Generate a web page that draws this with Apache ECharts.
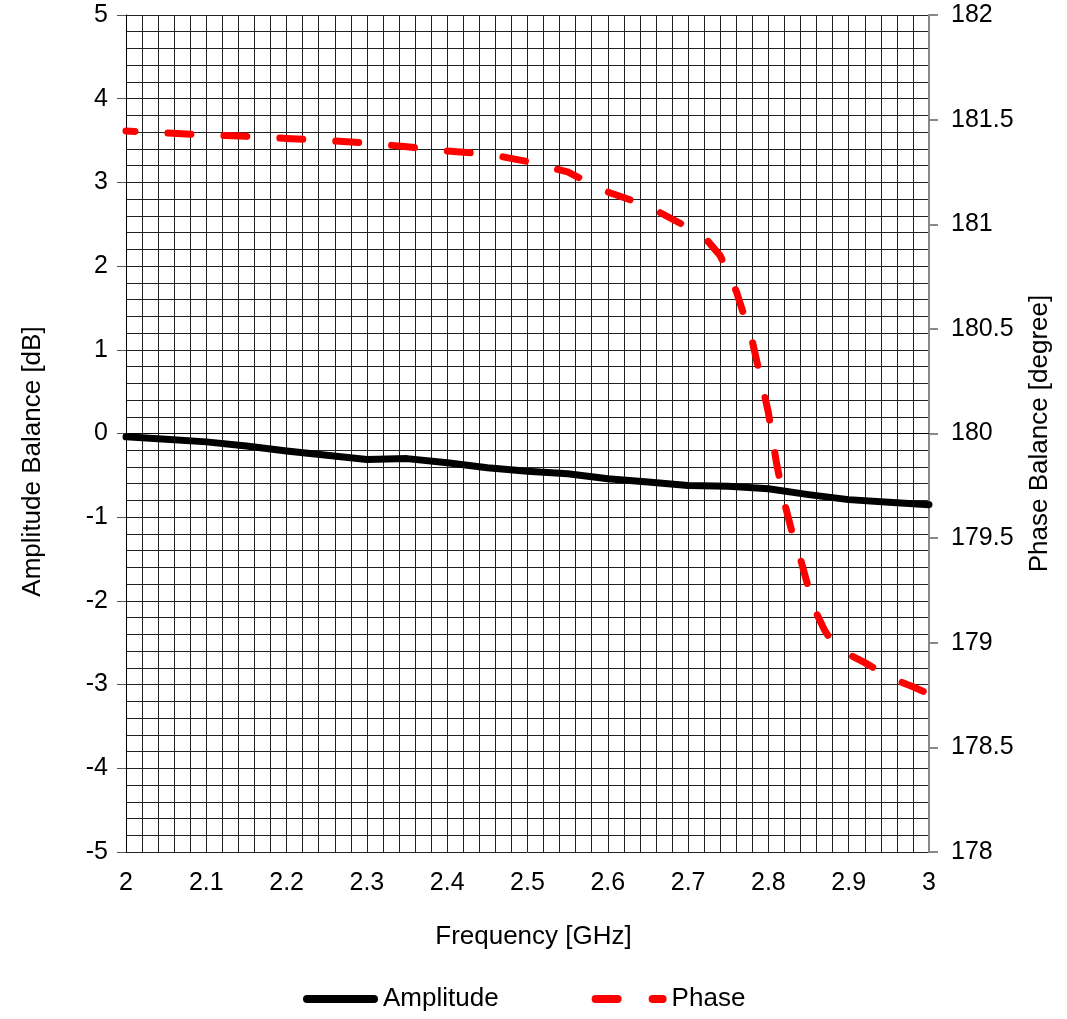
<!DOCTYPE html>
<html>
<head>
<meta charset="utf-8">
<script src="https://cdn.jsdelivr.net/npm/echarts@6/dist/echarts.min.js"></script>
<style>html,body{margin:0;padding:0;background:#fff}#c{width:1067px;height:1019px}</style>
</head>
<body>
<div id="c"></div>
<script>
const ampFreq = [2.00,2.05,2.10,2.15,2.20,2.25,2.30,2.35,2.40,2.45,2.50,2.55,2.60,2.65,2.70,2.75,2.80,2.85,2.90,2.95,3.00];
const ampValues = [-0.04,-0.07,-0.10,-0.15,-0.21,-0.26,-0.31,-0.30,-0.35,-0.41,-0.45,-0.48,-0.54,-0.58,-0.62,-0.63,-0.66,-0.73,-0.79,-0.82,-0.85];
const phaseFreq = [2.00,2.05,2.10,2.15,2.20,2.25,2.30,2.35,2.40,2.45,2.50,2.55,2.60,2.65,2.68,2.70,2.72,2.74,2.76,2.78,2.80,2.81,2.82,2.83,2.84,2.85,2.86,2.87,2.88,2.90,2.92,2.94,2.96,2.98,3.00];
const phaseValues = [181.446,181.436,181.427,181.42,181.41,181.40,181.388,181.37,181.35,181.336,181.30,181.25,181.154,181.087,181.025,180.985,180.94,180.85,180.68,180.44,180.10,179.86,179.67,179.52,179.40,179.26,179.14,179.06,179.00,178.945,178.905,178.86,178.82,178.79,178.755];
const seriesNames = ['Amplitude','Phase'];

const font = 'Liberation Sans, Arial, Helvetica, sans-serif';
const chart = echarts.init(document.getElementById('c'));
chart.setOption({
  animation: false,
  backgroundColor: '#fff',
  textStyle: {fontFamily: font},
  grid: {left: 126, right: 138, top: 15, bottom: 167, containLabel: false},
  legend: {
    bottom: 2, left: 298, itemGap: 93, itemWidth: 75, itemHeight: 8,
    textStyle: {fontSize: 26, color: '#000', fontFamily: font},
    data: [
      {name: seriesNames[0], icon: 'path://M4,0 H71 A4,4 0 0 1 71,8 H4 A4,4 0 0 1 4,0 Z'},
      {name: seriesNames[1], icon: 'path://M4,0 H26 A4,4 0 0 1 26,8 H4 A4,4 0 0 1 4,0 Z M61,0 H71 A4,4 0 0 1 71,8 H61 A4,4 0 0 1 61,0 Z'}
    ]
  },
  xAxis: {
    type: 'value', min: 2, max: 3, interval: 0.1,
    name: 'Frequency [GHz]', nameLocation: 'middle', nameGap: 72,
    nameTextStyle: {fontSize: 26, color: '#000', fontFamily: font, padding: [0, 0, 0, 12]},
    axisLine: {lineStyle: {color: '#000', width: 1}},
    axisTick: {show: false},
    axisLabel: {fontSize: 25, color: '#000', margin: 19, fontFamily: font,
      formatter: v => (Math.round(v*10)/10).toString()},
    splitLine: {show: true, lineStyle: {color: '#222', width: 1}},
    minorTick: {show: false, splitNumber: 5},
    minorSplitLine: {show: true, lineStyle: {color: '#222', width: 1}}
  },
  yAxis: [{
    type: 'value', min: -5, max: 5, interval: 1, position: 'left',
    name: 'Amplitude Balance [dB]', nameLocation: 'middle', nameGap: 80, nameRotate: 90,
    nameTextStyle: {fontSize: 26, color: '#000', fontFamily: font, padding: [0, 56, 0, 0]},
    axisLine: {show: true, lineStyle: {color: '#000', width: 1}},
    axisTick: {show: true, inside: false, length: 9, lineStyle: {color: '#555'}},
    axisLabel: {fontSize: 25, color: '#000', margin: 18, fontFamily: font},
    splitLine: {show: true, lineStyle: {color: '#222', width: 1}},
    minorTick: {show: false, splitNumber: 5},
    minorSplitLine: {show: true, lineStyle: {color: '#222', width: 1}}
  }, {
    type: 'value', min: 178, max: 182, interval: 0.5, position: 'right',
    name: 'Phase Balance [degree]', nameLocation: 'middle', nameGap: 98, nameRotate: 90,
    nameTextStyle: {fontSize: 26, color: '#000', fontFamily: font},
    axisLine: {show: true, lineStyle: {color: '#888', width: 2}},
    axisTick: {show: true, inside: false, length: 9, lineStyle: {color: '#888', width: 2}},
    axisLabel: {fontSize: 25, color: '#000', margin: 22, fontFamily: font},
    splitLine: {show: false}
  }],
  series: [{
    name: seriesNames[0], type: 'line', yAxisIndex: 0, symbol: 'none', showSymbol: false,
    data: ampFreq.map((f,i) => [f, ampValues[i]]),
    lineStyle: {color: '#000', width: 7, cap: 'round', join: 'round'},
    itemStyle: {color: '#000'}, z: 3
  }, {
    name: seriesNames[1], type: 'line', yAxisIndex: 1, symbol: 'none', showSymbol: false,
    data: phaseFreq.map((f,i) => [f, phaseValues[i]]),
    lineStyle: {color: '#ff0000', width: 7, type: [23, 33], dashOffset: 14, cap: 'round', join: 'round'},
    itemStyle: {color: '#ff0000'}, z: 4
  }]
});
</script>
</body>
</html>
